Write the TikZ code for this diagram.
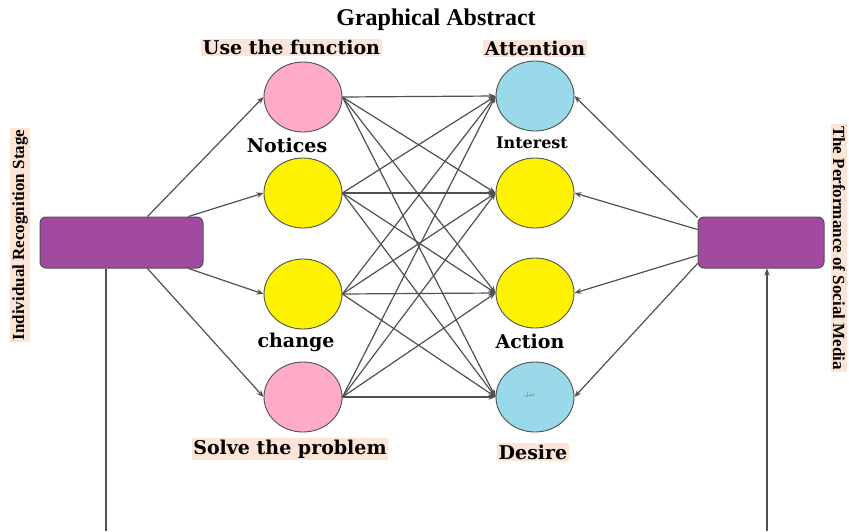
\documentclass[tikz,border=0pt]{standalone}
\usepackage{fontspec}
\setmainfont{Liberation Serif}
\newfontfamily\lblfont{DejaVu Serif}
\newfontfamily\arabicfont[Script=Arabic]{DejaVu Sans}
\TeXXeTstate=1
\usetikzlibrary{shapes.geometric,arrows.meta}
\definecolor{peach}{HTML}{FCE4D6}
\definecolor{cpink}{HTML}{FFAAC9}
\definecolor{cyel}{HTML}{FFF200}
\definecolor{cblue}{HTML}{99D9EA}
\definecolor{cpurp}{HTML}{A24A9F}
\definecolor{edgegray}{HTML}{505050}
\tikzset{
  circ/.style={ellipse, draw=edgegray, line width=0.9pt, minimum width=78pt, minimum height=70pt, inner sep=0pt},
  pbox/.style={rectangle, rounded corners=6pt, draw=edgegray, line width=1pt, fill=cpurp, inner sep=0pt},
  conn/.style={draw=edgegray, line width=1.2pt, -{Stealth[length=7pt,width=5.5pt]}},
  plain/.style={draw=edgegray, line width=1.2pt},
  lbl/.style={font=\lblfont\bfseries\fontsize{19}{19}\selectfont, inner sep=1.5pt},
  hl/.style={fill=peach},
}
\begin{document}
\begin{tikzpicture}[x=1pt,y=-1pt]
\useasboundingbox (0,0) rectangle (849,531);
% title
\node[font=\bfseries\fontsize{24}{24}\selectfont] (title) at (436,20) {Graphical Abstract};
% boxes
\node[pbox, minimum width=163pt, minimum height=51pt] (lbox) at (121.5,242.5) {};
\node[pbox, minimum width=126pt, minimum height=51pt] (rbox) at (761,242.5) {};
% left circles
\node[circ, fill=cpink] (l1) at (303,97) {};
\node[circ, fill=cyel]  (l2) at (303,193) {};
\node[circ, fill=cyel]  (l3) at (303,294) {};
\node[circ, fill=cpink] (l4) at (303,397) {};
% right circles
\node[circ, fill=cblue] (r1) at (535,96) {};
\node[circ, fill=cyel]  (r2) at (535,193) {};
\node[circ, fill=cyel]  (r3) at (535,293) {};
\node[circ, fill=cblue] (r4) at (535,397) {};
\node[font=\arabicfont\fontsize{6}{6}\selectfont, text=gray] (ar) at (530,395) {\beginR عمل\endR};
% labels
\node[lbl, hl] (t1) at (291.5,47.5) {Use the function};
\node[lbl, hl] (t2) at (535,48.5) {Attention};
\node[lbl] (t3) at (287,145) {Notices};
\node[lbl, font=\lblfont\bfseries\fontsize{16}{16}\selectfont] (t4) at (532,143) {Interest};
\node[lbl] (t5) at (296,342) {change};
\node[lbl] (t6) at (530,341) {Action};
\node[lbl, hl] (t7) at (290,449) {Solve the problem};
\node[lbl, hl] (t8) at (533,452) {Desire};
% vertical labels
\node[hl, rotate=90, font=\bfseries\fontsize{17}{17}\selectfont, inner sep=2pt] (v1) at (20,235) {Individual Recognition Stage};
\node[hl, rotate=-90, font=\bfseries\fontsize{17}{17}\selectfont, inner sep=2pt] (v2) at (839,248) {The Performance of Social Media};
% left box to circles
\draw[conn] ([xshift=-56pt]lbox.north east) -- (l1.west);
\draw[conn] ([xshift=-15pt]lbox.north east) -- (l2.west);
\draw[conn] ([xshift=-15pt]lbox.south east) -- (l3.west);
\draw[conn] ([xshift=-56pt]lbox.south east) -- (l4.west);
% right box to circles
\draw[conn] ([yshift=-1pt]rbox.north west) -- (r1.east);
\draw[conn] ([yshift=-13pt]rbox.north west) -- (r2.east);
\draw[conn] ([yshift=13pt]rbox.south west) -- (r3.east);
\draw[conn] ([yshift=5pt]rbox.south west) -- (r4.east);
% middle
\foreach \a in {1,2,3,4}{
  \foreach \b in {1,2,3,4}{
    \draw[conn] (l\a.east) -- (r\b.west);
  }
}
% bottom lines
\coordinate (lb) at (106,531);
\coordinate (rb) at (767,531);
\draw[plain] (lbox.south -| lb) -- (lb);
\draw[conn] (rb) -- (rb |- rbox.south);
\end{tikzpicture}
\end{document}
